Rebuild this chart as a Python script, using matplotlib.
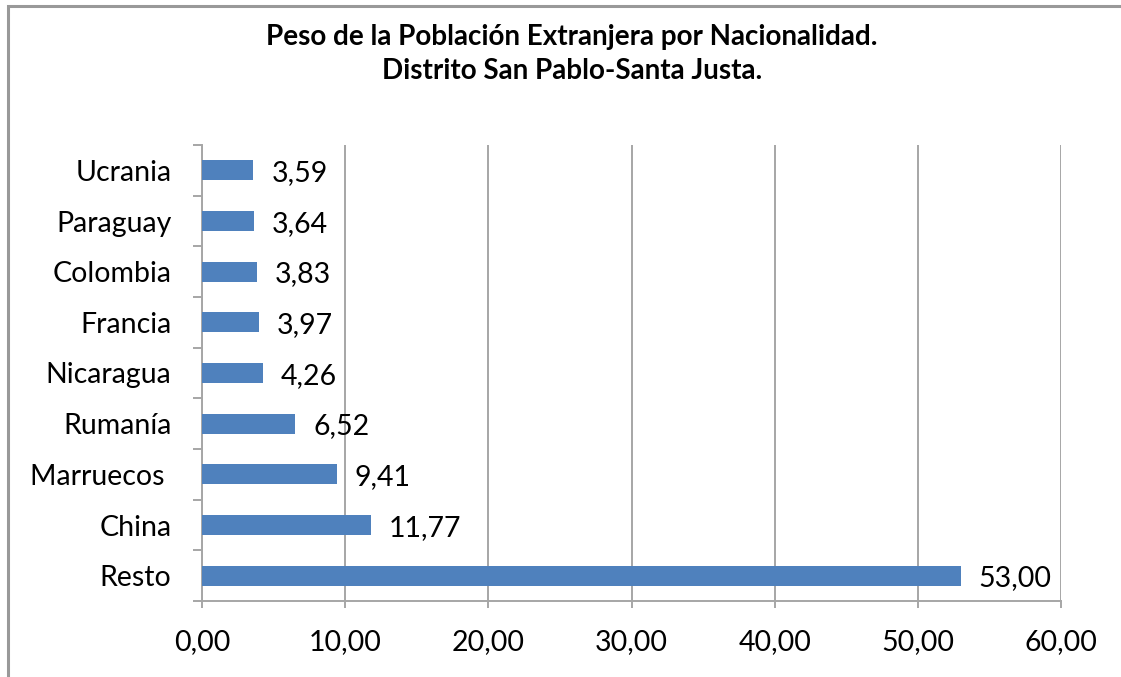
import matplotlib.pyplot as plt
from matplotlib.patches import Rectangle
from matplotlib.ticker import FuncFormatter
import numpy as np

plt.rcParams['font.family'] = ['Lato', 'DejaVu Sans']

# data, top to bottom as in the picture
paises = ['Ucrania', 'Paraguay', 'Colombia', 'Francia', 'Nicaragua',
          'Rumanía', 'Marruecos ', 'China', 'Resto']
pesos = [3.59, 3.64, 3.83, 3.97, 4.26, 6.52, 9.41, 11.77, 53.00]
x_ticks = [0, 10, 20, 30, 40, 50, 60]

titulo = ('Peso de la Población Extranjera por Nacionalidad.\n'
          'Distrito San Pablo-Santa Justa.')

grey = '#a6a6a6'
azul = '#4f81bd'

fig = plt.figure(figsize=(11.21, 6.77), dpi=100)
fig.patch.set_facecolor('white')
# chart border (cropped at right and bottom)
fig.patches.append(Rectangle((8 / 1121, -0.05), 1.2, 1 - 6 / 677 + 0.05,
                             transform=fig.transFigure, fill=False,
                             edgecolor='#999999', linewidth=2.2))

ax = fig.add_axes([202 / 1121, 1 - 601 / 677, 859 / 1121, 456 / 677])

y = np.arange(len(paises))[::-1]
ax.barh(y, pesos, height=0.4, color=azul, zorder=3)

for yi, v in zip(y, pesos):
    ax.annotate(f'{v:.2f}'.replace('.', ','), (v, yi), xytext=(13, -2),
                textcoords='offset points', va='center', ha='left',
                fontsize=20.5)

ax.set_xlim(0, 60)
ax.set_ylim(-0.5, len(paises) - 0.5)
ax.set_xticks(x_ticks)
ax.xaxis.set_major_formatter(FuncFormatter(lambda v, p: f'{v:.2f}'.replace('.', ',')))
ax.set_yticks(y)
ax.set_yticklabels(paises)
ax.set_yticks(np.arange(-0.5, len(paises)), minor=True)

ax.tick_params(axis='y', which='major', length=0, pad=22, labelsize=20.5)
ax.tick_params(axis='y', which='minor', length=6.5, width=1.4, color=grey)
ax.tick_params(axis='x', length=5, width=1.4, color=grey, pad=15, labelsize=20.5)

ax.grid(axis='x', color=grey, linewidth=1.4, zorder=0)
for s in ['top', 'right']:
    ax.spines[s].set_visible(False)
for s in ['left', 'bottom']:
    ax.spines[s].set_color(grey)
    ax.spines[s].set_linewidth(1.4)

fig.text(572 / 1121, 1 - 54 / 677, titulo, ha='center', va='center',
         fontsize=20, fontweight='bold', linespacing=1.4)

fig.savefig('out.png', dpi=100)
